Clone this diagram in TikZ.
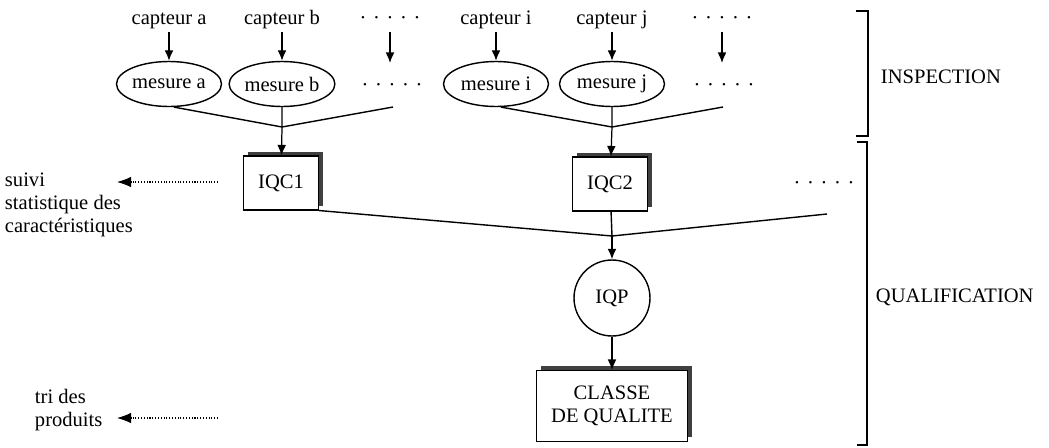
\documentclass[tikz,border=0pt]{standalone}
\usepackage{fontspec}
\setmainfont{Liberation Serif}
\usetikzlibrary{shapes.geometric,shadows,arrows.meta}
\newcommand{\fivedots}{·\hspace{3.8pt}·\hspace{3.8pt}·\hspace{3.8pt}·\hspace{3.8pt}·}

\begin{document}
\begin{tikzpicture}[x=0.02cm,y=-0.02cm,
    every node/.style={inner sep=1.5pt,font=\fontsize{11.7}{13}\selectfont},
    captext/.style={text height=8pt,text depth=2.5pt},
    mes/.style={draw,ellipse,line width=0.8pt,minimum width=2.1cm,minimum height=0.9cm,inner sep=0pt},
    qbox/.style={draw,fill=white,line width=0.6pt,
        drop shadow={shadow xshift=2.3pt,shadow yshift=2.3pt,fill=black!75,opacity=1}},
    arr/.style={-{Latex[length=6pt,width=5pt]},line width=0.7pt},
    lnk/.style={line width=0.8pt},
    dotarr/.style={-{Latex[length=8pt,width=6pt]},densely dotted,line width=0.6pt}]
        \useasboundingbox (0,0) rectangle (1049,447);
        % capteurs
        \node[captext] (ca) at (169,20) {capteur a};
        \node[captext] (cb) at (282,20) {capteur b};
        \node[captext] (d1) at (390,20) {\fivedots};
        \node[captext] (ci) at (496,20) {capteur i};
        \node[captext] (cj) at (612,20) {capteur j};
        \node[captext] (d2) at (722,20) {\fivedots};
        \coordinate (t1) at (390,63);
        \coordinate (t2) at (722,63);
        % mesures
        \node[mes] (ma) at (169,84) {mesure a};
        \node[mes] (mb) at (282,84) {mesure b};
        \node (e1) at (392,87) {\fivedots};
        \node[mes] (mi) at (496,84) {mesure i};
        \node[mes] (mj) at (612,84) {mesure j};
        \node (e2) at (724,87) {\fivedots};
        \coordinate (f1) at (393,107);
        \coordinate (f2) at (723,107);
        \coordinate (j1) at (282,127);
        \coordinate (j2) at (612,127);
        % indicateurs
        \node[qbox,minimum width=1.5cm,minimum height=1.08cm] (q1) at (281,183) {IQC1};
        \node[qbox,minimum width=1.5cm,minimum height=1.08cm] (q2) at (610,184) {IQC2};
        \node (e3) at (824,185) {\fivedots};
        \coordinate (f3) at (827,214);
        \coordinate (j3) at (612,236);
        \node[draw,circle,line width=0.8pt,minimum size=1.52cm] (qp) at (612,298) {IQP};
        \node[qbox,align=center,minimum width=3.02cm,minimum height=1.42cm] (cl) at (612,406) {CLASSE\\DE QUALITE};
        % sorties
        \node[anchor=west,align=left] (sv) at (2,205) {suivi\\statistique des\\caractéristiques};
        \node[anchor=west,align=left] (tr) at (32,410) {tri des\\produits};
        \coordinate (s1) at (218,182);
        \coordinate (s2) at (117,182);
        \coordinate (s3) at (218,418);
        \coordinate (s4) at (117,418);
        \node[anchor=west] (ins) at (878,77) {INSPECTION};
        \node[anchor=west] (qua) at (873,297) {QUALIFICATION};
        \draw[arr] (ca)--(ma);
        \draw[arr] (cb)--(mb);
        \draw[arr] (d1)--(t1);
        \draw[arr] (ci)--(mi);
        \draw[arr] (cj)--(mj);
        \draw[arr] (d2)--(t2);
        \draw[lnk] (ma.-78)--(j1)--(f1) (mb)--(j1);
        \draw[lnk] (mi.-78)--(j2)--(f2) (mj)--(j2);
        \draw[arr] (j1)--(q1);
        \draw[arr] (j2)--(q2);
        \draw[lnk] (q1.south east)--(j3)--(f3) (q2)--(j3);
        \draw[arr] (j3)--(qp);
        \draw[arr] (qp)--(cl);
        \draw[dotarr] (s1)--(s2);
        \draw[dotarr] (s3)--(s4);
        % accolades
        \draw[line width=0.8pt] (856,11)--(868,11)--(868,136)--(856,136);
        \draw[line width=0.8pt] (857,142)--(867,142)--(867,445)--(857,445);
    \end{tikzpicture}
\end{document}
